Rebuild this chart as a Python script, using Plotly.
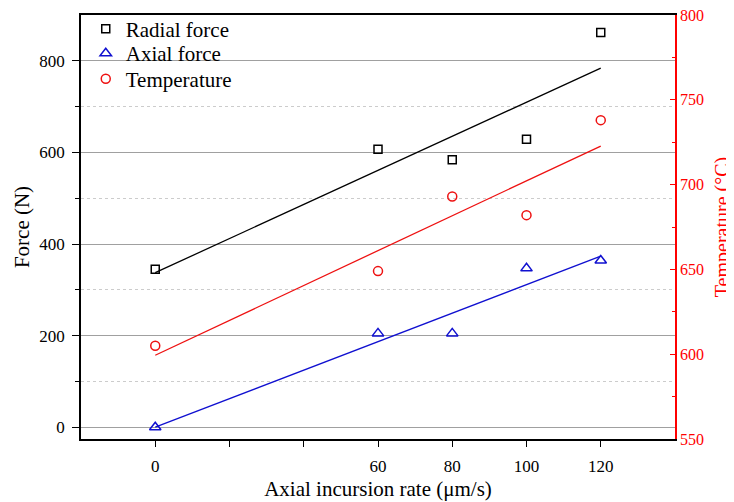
import numpy as np
import plotly.graph_objects as go

rate = [0, 60, 80, 100, 120]
radial_force = [345, 607, 584, 629, 862]
axial_force = [0, 205, 205, 347, 364]
temperature = [605, 649, 693, 682, 738]

x_tickvals = [0, 20, 40, 60, 80, 100, 120]
x_ticktext = ["0", "", "", "60", "80", "100", "120"]

FONT = "Liberation Serif, Times New Roman, serif"

def fit(x, y):
    k, b = np.polyfit(x, y, 1)
    xs = [min(x), max(x)]
    return xs, [k * v + b for v in xs]

fig = go.Figure()

series = [
    ("Radial force", radial_force, "black", "square-open", "y", 8, "legend"),
    ("Axial force", axial_force, "#1010d0", "triangle-up-open", "y", 10, "legend2"),
    ("Temperature", temperature, "#ee1111", "circle-open", "y2", 9, "legend3"),
]

for name, vals, col, sym, ax, sz, lg in series:
    fx, fy = fit(rate, vals)
    fig.add_trace(go.Scatter(x=fx, y=fy, mode="lines", line=dict(color=col, width=1.3),
                             showlegend=False, yaxis=ax, hoverinfo="skip"))
for name, vals, col, sym, ax, sz, lg in series:
    fig.add_trace(go.Scatter(x=rate, y=vals, mode="markers", name=name, yaxis=ax,
                             legend=lg,
                             marker=dict(symbol=sym, size=sz, color=col,
                                         line=dict(color=col, width=1.5))))

def leg(y):
    return dict(x=0.008, y=y, xanchor="left", yanchor="middle",
                bgcolor="rgba(0,0,0,0)", borderwidth=0,
                font=dict(family=FONT, size=21, color="black"), itemwidth=30)

fig.update_layout(
    width=726, height=494,
    margin=dict(l=73, r=59, t=7, b=63, autoexpand=False),
    paper_bgcolor="white", plot_bgcolor="white",
    font=dict(family=FONT, size=17, color="black"),
    showlegend=True,
    legend=leg(0.967), legend2=leg(0.909), legend3=leg(0.849),
    xaxis=dict(
        range=[-20, 140], tickvals=x_tickvals, ticktext=x_ticktext,
        showgrid=False, zeroline=False, automargin=False,
        showline=True, linecolor="black", linewidth=1.5, mirror=True,
        ticks="outside", ticklen=6, tickwidth=1.3, tickcolor="black",
        ticklabelstandoff=5,
        title=dict(text="Axial incursion rate (μm/s)", font=dict(size=21), standoff=6),
    ),
    yaxis=dict(
        range=[-25.5, 900], tickvals=[0, 200, 400, 600, 800],
        showgrid=True, gridcolor="#a0a0a0", gridwidth=1, zeroline=False, automargin=False,
        showline=True, linecolor="black", linewidth=1.5,
        ticks="outside", ticklen=7, tickwidth=1.3, tickcolor="black",
        ticklabelstandoff=4,
        minor=dict(tickvals=[100, 300, 500, 700], ticks="outside", ticklen=4,
                   tickcolor="black", tickwidth=1.2,
                   showgrid=True, gridcolor="#cccccc", griddash="dot", gridwidth=1),
        title=dict(text="Force (N)", font=dict(size=21), standoff=4),
    ),
    yaxis2=dict(
        overlaying="y", side="right", range=[550, 800],
        tickvals=[550, 600, 650, 700, 750, 800],
        showgrid=False, zeroline=False, automargin=False,
        showline=True, linecolor="#ff0000", linewidth=1.5,
        ticks="inside", ticklen=5, tickwidth=1.3, tickcolor="#ff0000",
        ticklabeloverflow="allow",
        minor=dict(tickvals=[575, 625, 675, 725, 775], ticks="inside", ticklen=3,
                   tickcolor="#ff0000", tickwidth=1.2),
        tickfont=dict(color="#ff0000", size=16),
        title=dict(text="Temperature (°C)", font=dict(size=20, color="#ff0000"), standoff=14),
    ),
)

fig.write_html("out.html")
